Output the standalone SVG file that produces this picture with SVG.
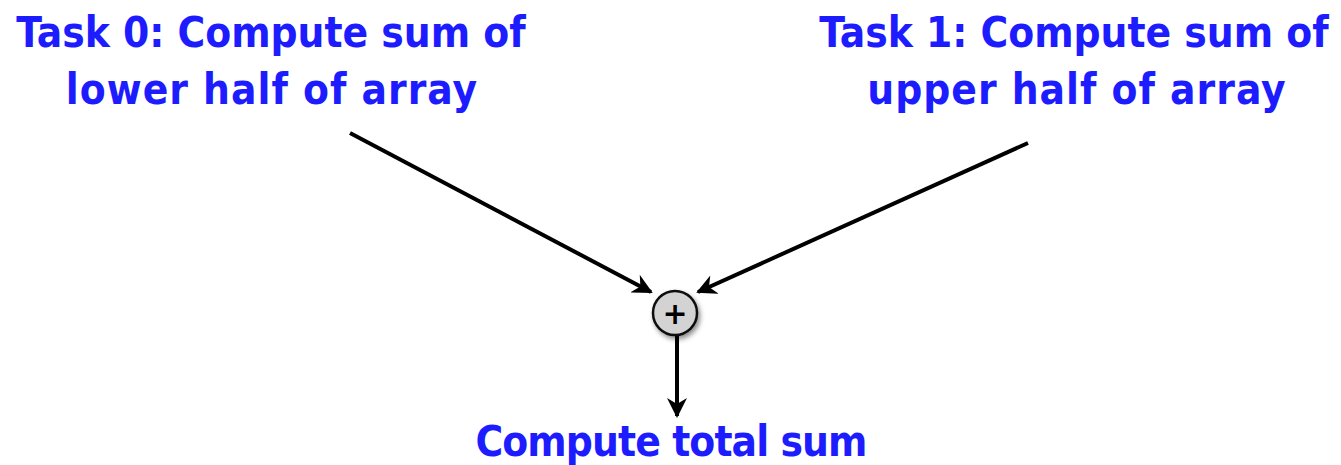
<svg xmlns="http://www.w3.org/2000/svg" width="1341" height="465" viewBox="0 0 1341 465">
  <style>
    .lbl { font-family: "DejaVu Sans Condensed", "DejaVu Sans", sans-serif; font-stretch: condensed; font-weight: bold; font-size: 42px; fill: #1c1cff; text-anchor: middle; }
    .wide { letter-spacing: 1px; }
    .tight { letter-spacing: -0.9px; }
    .edge { stroke: #000; stroke-width: 4; fill: none; marker-end: url(#arrow); }
  </style>
  <defs>
    <marker id="arrow" viewBox="0 0 10 10" refX="9" refY="5" markerWidth="5" markerHeight="5" orient="auto" markerUnits="strokeWidth">
      <path d="M0,0 L10,5 L0,10 L3,5 Z" fill="#000"/>
    </marker>
    <filter id="shadow" x="-50%" y="-50%" width="200%" height="200%">
      <feDropShadow dx="2" dy="3" stdDeviation="2.5" flood-color="#000" flood-opacity="0.45"/>
    </filter>
  </defs>

  <g id="connectors">
    <line class="edge" x1="350" y1="133" x2="651" y2="292"/>
    <line class="edge" x1="1028" y1="143" x2="698" y2="292"/>
    <line class="edge" x1="677" y1="335" x2="677" y2="416"/>
  </g>

  <g id="task0">
    <text class="lbl" x="271" y="47">Task 0: Compute sum of</text>
    <text class="lbl wide" x="272" y="104">lower half of array</text>
  </g>

  <g id="task1">
    <text class="lbl" x="1074" y="47">Task 1: Compute sum of</text>
    <text class="lbl wide" x="1077" y="104">upper half of array</text>
  </g>

  <g id="sum">
    <circle cx="675" cy="313" r="22" fill="#d3d3d3" stroke="#111" stroke-width="2.5" filter="url(#shadow)"/>
    <text x="675" y="324" font-family="DejaVu Sans, sans-serif" font-weight="bold" font-size="30" text-anchor="middle" fill="#000">+</text>
  </g>

  <g id="total">
    <text class="lbl tight" x="671" y="456">Compute total sum</text>
  </g>
</svg>
